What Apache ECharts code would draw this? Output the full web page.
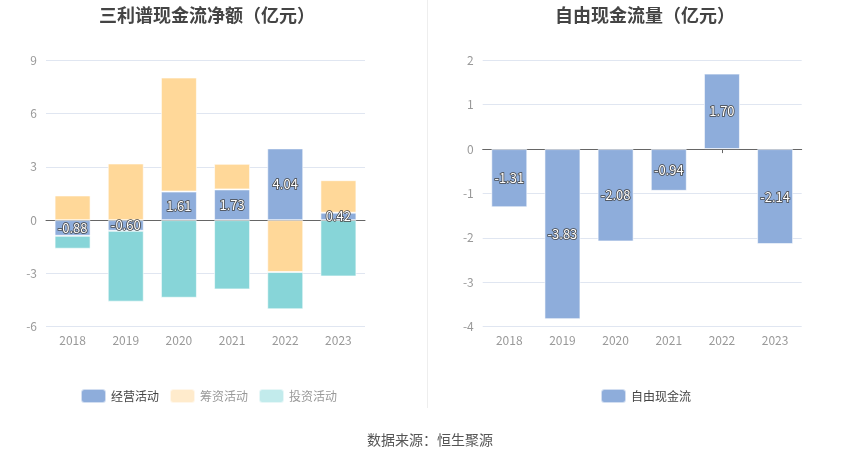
<!DOCTYPE html>
<html><head><meta charset="utf-8">
<script src="https://cdn.jsdelivr.net/npm/echarts@6/dist/echarts.min.js"></script>
<style>html,body{margin:0;padding:0;background:#fff}#c{width:850px;height:458px}</style>
</head><body><div id="c"></div>
<script>
var years = ['2018','2019','2020','2021','2022','2023'];
var operating = [-0.88, -0.60, 1.61, 1.73, 4.04, 0.42];
var financing = [1.39, 3.19, 6.42, 1.44, -2.92, 1.83];
var investing = [-0.73, -3.99, -4.37, -3.90, -2.10, -3.17];
var freeCash = [-1.31, -3.83, -2.08, -0.94, 1.70, -2.14];
var leftTicks = [-6, 9, 3];
var rightTicks = [-4, 2, 1];

var FONT = '"Noto Sans CJK SC", "Noto Sans", sans-serif';
var blue = '#8EADDB', orange = '#FFD899', teal = '#87D5D8';
var chart = echarts.init(document.getElementById('c'));
var lbl = {show: true, position: 'inside', color: '#fff', fontSize: 13, fontFamily: FONT,
  textBorderColor: '#444', textBorderWidth: 1.5, formatter: function(p){return p.value.toFixed(2);}};
function xAxes(gi){
  return [
    {type:'category', gridIndex:gi, data:years, position:'bottom',
     axisLine:{show:false, onZero:false}, axisTick:{show:false},
     axisLabel:{color:'#999', fontSize:12, fontFamily:FONT, margin:8}},
    {type:'category', gridIndex:gi, data:years, position:'bottom',
     axisLine:{show:true, onZero:true, lineStyle:{color:'#666'}},
     axisTick:{show:true, alignWithLabel:true, length:4, lineStyle:{color:'#666'}},
     axisLabel:{show:false}}
  ];
}
var xa = xAxes(0).concat(xAxes(1));
var bw = 36;
var option = {
  backgroundColor:'#fff',
  animation:false,
  title:[
    {text:'三利谱现金流净额（亿元）', left:202, top:1, textAlign:'center',
     textStyle:{fontSize:18, fontWeight:'bold', color:'#444', fontFamily:FONT}},
    {text:'自由现金流量（亿元）', left:640, top:1, textAlign:'center',
     textStyle:{fontSize:18, fontWeight:'bold', color:'#444', fontFamily:FONT}},
    {text:'数据来源：恒生聚源', left:425, top:428, textAlign:'center',
     textStyle:{fontSize:14, fontWeight:'normal', color:'#555', fontFamily:FONT}}
  ],
  legend:[
    {left:75, top:383, itemWidth:25, itemHeight:14, itemGap:10,
     textStyle:{fontSize:12, fontFamily:FONT, color:'#444'},
     data:[{name:'经营活动'},
           {name:'筹资活动', itemStyle:{color:'#FFEBCC'}, textStyle:{color:'#999'}},
           {name:'投资活动', itemStyle:{color:'#C2EBEC'}, textStyle:{color:'#999'}}]},
    {left:595, top:383, itemWidth:25, itemHeight:14,
     textStyle:{fontSize:12, fontFamily:FONT, color:'#444'},
     data:[{name:'自由现金流'}]}
  ],
  grid:[
    {left:46, right:485, top:60.3, bottom:131.3},
    {left:482.7, right:48.3, top:60.3, bottom:131.3}
  ],
  graphic:[{type:'line', shape:{x1:427.5,y1:0,x2:427.5,y2:408}, style:{stroke:'#eee', lineWidth:1}}],
  xAxis: xa,
  yAxis:[
    {type:'value', gridIndex:0, min:leftTicks[0], max:leftTicks[1], interval:leftTicks[2],
     axisLine:{show:false}, axisTick:{show:false},
     splitLine:{lineStyle:{color:'#E0E6F1'}},
     axisLabel:{color:'#999', fontSize:12, fontFamily:FONT, margin:9}},
    {type:'value', gridIndex:1, min:rightTicks[0], max:rightTicks[1], interval:rightTicks[2],
     axisLine:{show:false}, axisTick:{show:false},
     splitLine:{lineStyle:{color:'#E0E6F1'}},
     axisLabel:{color:'#999', fontSize:12, fontFamily:FONT, margin:9}}
  ],
  series:[
    {name:'经营活动', type:'bar', stack:'a', xAxisIndex:0, yAxisIndex:0, data:operating, barWidth:bw,
     itemStyle:{color:blue, borderColor:'rgba(255,255,255,0.6)', borderWidth:1}, label:lbl, z:3},
    {name:'筹资活动', type:'bar', stack:'a', xAxisIndex:0, yAxisIndex:0, data:financing, barWidth:bw,
     itemStyle:{color:orange, borderColor:'rgba(255,255,255,0.6)', borderWidth:1}},
    {name:'投资活动', type:'bar', stack:'a', xAxisIndex:0, yAxisIndex:0, data:investing, barWidth:bw,
     itemStyle:{color:teal, borderColor:'rgba(255,255,255,0.6)', borderWidth:1}},
    {name:'自由现金流', type:'bar', xAxisIndex:2, yAxisIndex:1, data:freeCash, barWidth:bw,
     itemStyle:{color:blue, borderColor:'rgba(255,255,255,0.6)', borderWidth:1}, label:lbl}
  ]
};
chart.setOption(option);
</script></body></html>
